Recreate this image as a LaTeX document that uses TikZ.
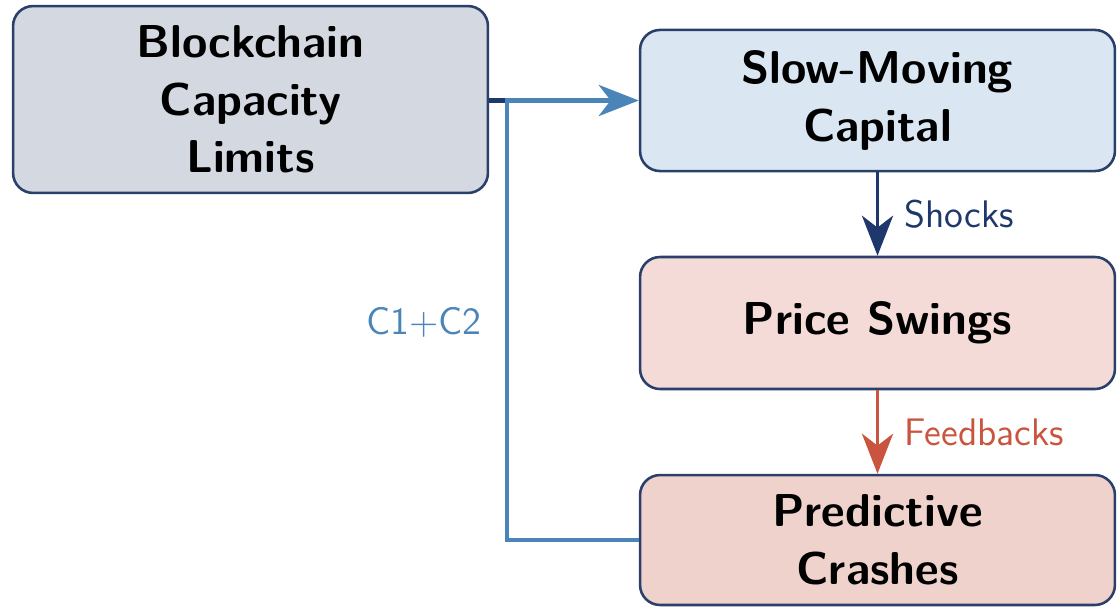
\documentclass[tikz,border=0pt]{standalone}
\usetikzlibrary{arrows.meta}
\definecolor{boxline}{HTML}{2A3F6A}
\definecolor{fillA}{HTML}{D3D8E1}
\definecolor{fillB}{HTML}{DAE6F2}
\definecolor{fillC}{HTML}{F4DBD7}
\definecolor{fillD}{HTML}{F0D2CC}
\definecolor{navyarrow}{HTML}{1F386B}
\definecolor{steel}{HTML}{4A84B8}
\definecolor{redarrow}{HTML}{C9553E}
\begin{document}
\begin{tikzpicture}[x=0.3125pt,y=-0.3125pt,
  box/.style={draw=boxline, line width=0.8pt, rounded corners=6.25pt, align=center,
    font=\sffamily\bfseries\Large, inner sep=0pt, minimum width=148.4pt},
  tip/.style={-{Stealth[length=12.5pt,width=9.7pt,inset=3.7pt]}},
  lbl/.style={font=\sffamily\large}]
\useasboundingbox (0,0) rectangle (1119,607);
\node[box, fill=fillA, minimum height=58.4pt] (A) at (250.5,99.5) {Blockchain\\Capacity\\Limits};
\node[box, fill=fillB, minimum height=44.1pt] (B) at (877.5,100.5) {Slow-Moving\\Capital};
\node[box, fill=fillC, minimum height=41.25pt] (C) at (877.5,323) {Price Swings};
\node[box, fill=fillD, minimum height=40.6pt] (D) at (877.5,540) {Predictive\\Crashes};
\coordinate (j) at (507,100.5);
\draw[navyarrow, line width=1.4pt] (A.east |- j) -- (j);
\draw[steel, line width=1.5pt, tip] (D.west) -| (j)
  node[pos=0.75, left=4pt, yshift=-0.6pt, text=steel, lbl] {C1+C2} -- (B.west);
\draw[navyarrow, line width=1.2pt, tip] (B.south) -- node[right=4.5pt, lbl] {Shocks} (C.north);
\draw[redarrow, line width=1.2pt, tip] (C.south) -- node[right=4.5pt, lbl] {Feedbacks} (D.north);
\end{tikzpicture}
\end{document}
